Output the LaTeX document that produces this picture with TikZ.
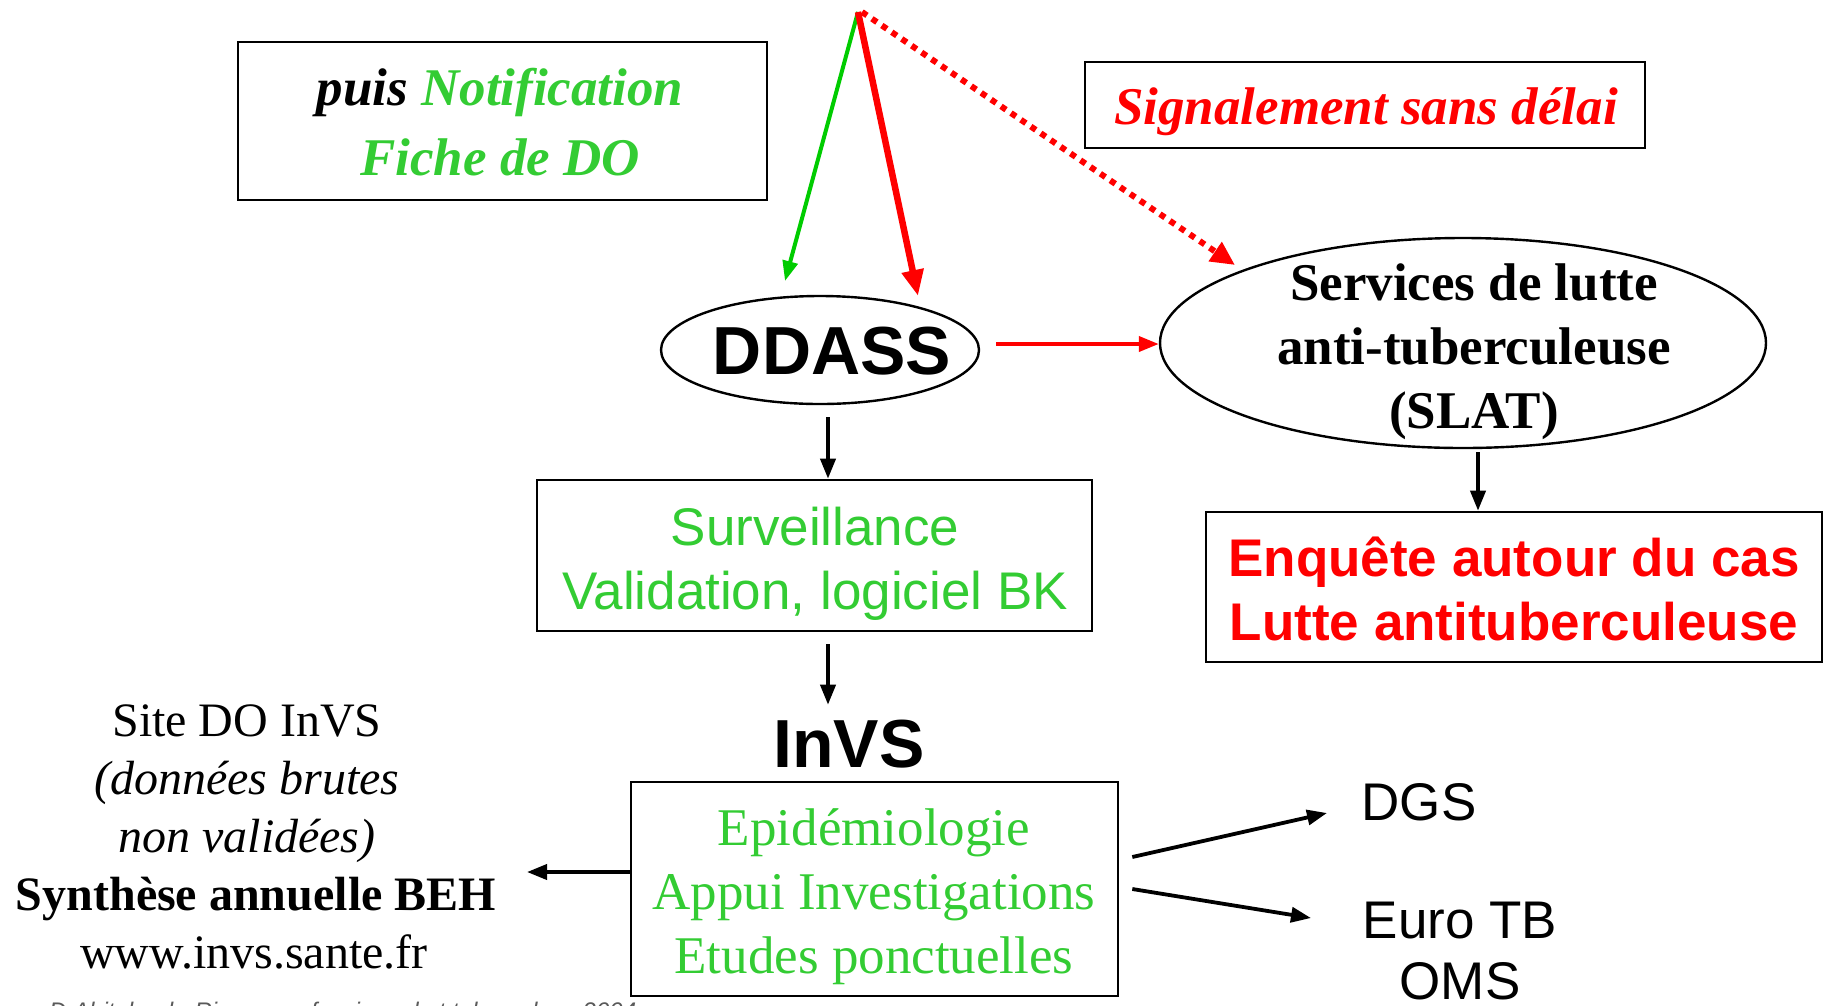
\documentclass[tikz,border=0pt]{standalone}
\usepackage{fontspec}
\setmainfont{Liberation Serif}
\setsansfont{Liberation Sans}
\usetikzlibrary{shapes.geometric,arrows.meta}
\definecolor{txtgreen}{RGB}{51,204,51}
\definecolor{arrgreen}{RGB}{0,204,0}
\definecolor{pred}{RGB}{255,0,0}
\definecolor{footgray}{RGB}{90,90,90}
\tikzset{
  boxed/.style={draw=black, line width=2.6pt, rectangle, inner sep=0pt},
  ellbox/.style={draw=black, line width=2.4pt, ellipse, inner sep=0pt},
  serifbig/.style={font=\fontsize{53}{64}\selectfont\rmfamily, align=center},
  sansbig/.style={font=\fontsize{53}{64}\selectfont\sffamily, align=center},
  blackarr/.style={line width=3.8pt, -{Triangle[length=20pt,width=15pt]}},
}
\begin{document}
\begin{tikzpicture}[x=1pt,y=-1pt]
\useasboundingbox[fill=white] (0,0) rectangle (1823,1005);

% boxes
\node[boxed, minimum width=529pt, minimum height=158pt] (notif) at (502.5,121) {};
\node[font=\fontsize{53}{70}\selectfont\rmfamily\bfseries\itshape, align=center] (notift) at (500,122)
  {puis \textcolor{txtgreen}{Notification}\\\textcolor{txtgreen}{Fiche de DO}};

\node[boxed, minimum width=560pt, minimum height=86pt] (signal) at (1365,105) {};
\node[font=\fontsize{53}{64}\selectfont\rmfamily\bfseries\itshape, text=pred] (signalt) at (1366,112) {Signalement sans délai};

% ellipses
\node[ellbox, minimum width=318pt, minimum height=108pt] (ddass) at (820,350) {};
\node[font=\fontsize{68}{80}\selectfont\sffamily\bfseries] (ddasst) at (832,351) {DDASS};

\node[ellbox, minimum width=606pt, minimum height=210pt] (slat) at (1463,343) {};
\node[serifbig, font=\fontsize{53}{64}\selectfont\rmfamily\bfseries] (slatt) at (1474,352)
  {Services de lutte\\anti-tuberculeuse\\(SLAT)};

\node[boxed, minimum width=616pt, minimum height=150pt] (enq) at (1514,587) {};
\node[sansbig, font=\fontsize{53}{64}\selectfont\sffamily\bfseries, text=pred] (enqt) at (1514,589)
  {Enquête autour du cas\\Lutte antituberculeuse};

\node[boxed, minimum width=555pt, minimum height=151pt] (surv) at (814.5,555.5) {};
\node[sansbig, text=txtgreen] (survt) at (815,564) {Surveillance\\Validation, logiciel BK};

\node[font=\fontsize{68}{80}\selectfont\sffamily\bfseries, inner sep=0pt] (invs) at (849,744) {InVS};

\node[boxed, minimum width=487pt, minimum height=214pt] (epid) at (874.5,889) {};
\node[serifbig, text=txtgreen] (epidt) at (874,897) {Epidémiologie\\Appui Investigations\\Etudes ponctuelles};

\node[font=\fontsize{48}{58}\selectfont\rmfamily, align=center] (left) at (256,837)
  {\hspace*{-18pt}Site DO InVS\\\hspace*{-18pt}\textit{(données brutes}\\\hspace*{-18pt}\textit{non validées)}\\\textbf{Synthèse annuelle BEH}\\\hspace*{-4pt}www.invs.sante.fr};

\node[sansbig] (dgs) at (1419,802) {DGS};
\node[font=\fontsize{53}{61}\selectfont\sffamily, align=center] (euro) at (1460,951) {Euro TB\\OMS};

\node[font=\fontsize{24}{28}\selectfont\sffamily\itshape, text=footgray, anchor=base west, inner sep=0pt] (foot) at (49,1019)
  {D.Abiteboul - Risque professionnel et tuberculose 2004};

% coordinates
\coordinate (src) at (858,12);
\coordinate (leftend) at (527,872);
\coordinate (dgsin) at (1327,813);
\coordinate (euroin) at (1311,918);

% top arrows
\draw[arrgreen, line width=4pt, -{Triangle[length=20pt,width=15pt]}] (src) -- (785,281) coordinate (gEnd);
\draw[pred, line width=6.5pt, -{Triangle[length=26pt,width=21pt]}] (src) -- (918,296) coordinate (rEnd);
\draw[pred, line width=6pt, dash pattern=on 6pt off 6pt, -{Triangle[length=24pt,width=22pt]}] ([xshift=4pt]src) -- (1235,265) coordinate (dEnd);

% DDASS -> SLAT
\draw[pred, line width=3.8pt, -{Triangle[length=20pt,width=15pt]}] ([xshift=16pt,yshift=6pt]ddass.east) -- ([yshift=-1pt]slat.west);

% vertical arrows
\draw[blackarr] ([xshift=8pt,yshift=-12pt]ddass.south) -- ([xshift=13.5pt]surv.north);
\draw[blackarr] ([xshift=13.5pt,yshift=-12pt]surv.south) -- ([xshift=-21pt,yshift=15pt]invs.north);
\draw[blackarr] ([xshift=15pt,yshift=-3pt]slat.south) -- ([xshift=-36pt]enq.north);

% bottom arrows
\draw[blackarr] ([yshift=17pt]epid.west) -- (leftend);
\draw[blackarr] ([xshift=13pt,yshift=32pt]epid.east) -- (dgsin);
\draw[blackarr] ([xshift=13pt]epid.east) -- (euroin);
\end{tikzpicture}
\end{document}
